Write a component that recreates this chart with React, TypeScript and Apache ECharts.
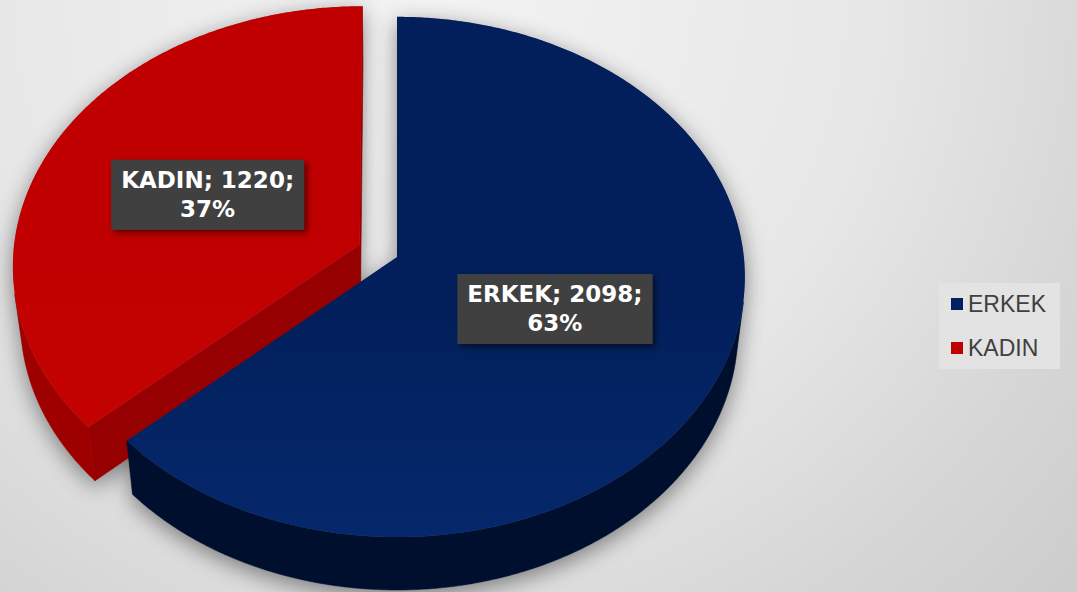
import React, { useEffect, useRef } from "react";
import * as echarts from "echarts";

// ---- data ----
const categories = ["ERKEK", "KADIN"];
const values = [2098, 1220];
const explodeFractions = [0, 0.118];

// ---- styles ----
const topColorsFar = ["#021F5B", "#C00000"];
const topColorsNear = ["#05286C", "#C40202"];
const sideColors = ["#000F2E", "#9E0000"];
const radialColors = ["#000D28", "#960000"];

const total = values.reduce((a, b) => a + b, 0);
const cumBefore = values.map((_, i) => values.slice(0, i).reduce((a, b) => a + b, 0));

// ---- 3D view (perspective) ----
const BASE_W = 1077;
const VIEW = {
  cx: 397,
  cy: 257,
  focal: 3018,
  dist: 8.7,
  tilt: (48.2 * Math.PI) / 180,
  thickness: 0.241,
  labelRadius: 0.49,
};

function makeRenderItem(seriesIdx: number) {
  return (params: any, api: any) => {
    const value = api.value(0) as number;
    const before = api.value(1) as number;
    const k = api.getWidth() / BASE_W;
    const cx = VIEW.cx * k;
    const cy = VIEW.cy * k;
    const F = VIEW.focal * k;
    const D = VIEW.dist;
    const s = Math.sin(VIEW.tilt);
    const c = Math.cos(VIEW.tilt);
    const T = VIEW.thickness;
    const proj = (u: number, v: number, z: number) => {
      const Y = v * s + z * c;
      const Z = D + v * c - z * s;
      return [cx + (F * u) / Z, cy - (F * Y) / Z];
    };
    const th0 = (2 * Math.PI * before) / total;
    const th1 = (2 * Math.PI * (before + value)) / total;
    const mid = (th0 + th1) / 2;
    const e = explodeFractions[seriesIdx];
    const ou = e * Math.sin(mid);
    const ov = e * Math.cos(mid);
    const rim = (th: number, z: number, r = 1) => proj(ou + r * Math.sin(th), ov + r * Math.cos(th), z);
    const center = (z: number) => proj(ou, ov, z);
    const camV = -D * c;

    const zBase = 10 + Math.round((1 - Math.cos(mid)) * 10) * 2;

    const n = Math.max(8, Math.ceil((th1 - th0) / (Math.PI / 360)));
    const ths: number[] = [];
    for (let j = 0; j <= n; j++) ths.push(th0 + ((th1 - th0) * j) / n);

    const faces: { pts: number[][]; color: any; z2: number }[] = [];

    // radial start face
    {
      const nu = -Math.cos(th0), nv = Math.sin(th0);
      if (nu * (0 - ou) + nv * (camV - ov) > 0) {
        faces.push({ pts: [center(0), rim(th0, 0), rim(th0, -T), center(-T)], color: radialColors[seriesIdx], z2: zBase });
      }
    }
    // radial end face
    {
      const nu = Math.cos(th1), nv = -Math.sin(th1);
      if (nu * (0 - ou) + nv * (camV - ov) > 0) {
        faces.push({ pts: [center(0), rim(th1, 0), rim(th1, -T), center(-T)], color: radialColors[seriesIdx], z2: zBase });
      }
    }
    // curved side (visible runs)
    let run: number[] = [];
    const flush = () => {
      if (run.length >= 2) {
        const topPts = run.map((t) => rim(t, 0));
        const botPts = run.slice().reverse().map((t) => rim(t, -T));
        faces.push({ pts: topPts.concat(botPts), color: sideColors[seriesIdx], z2: zBase });
      }
      run = [];
    };
    for (let j = 0; j < n; j++) {
      const tm = (ths[j] + ths[j + 1]) / 2;
      const vis = Math.sin(tm) * (0 - ou - Math.sin(tm)) + Math.cos(tm) * (camV - ov - Math.cos(tm)) > 0;
      if (vis) {
        if (run.length === 0) run.push(ths[j]);
        run.push(ths[j + 1]);
      } else flush();
    }
    flush();

    // top face
    const topPts = [center(0)].concat(ths.map((t) => rim(t, 0)));
    faces.push({
      pts: topPts,
      color: {
        type: "linear",
        x: 0,
        y: 0,
        x2: 0,
        y2: 1,
        colorStops: [
          { offset: 0, color: topColorsFar[seriesIdx] },
          { offset: 0.55, color: topColorsFar[seriesIdx] },
          { offset: 1, color: topColorsNear[seriesIdx] },
        ],
      },
      z2: zBase + 1,
    });

    const children: any[] = [];
    // shadow pass
    faces.forEach((f) => {
      children.push({
        type: "polygon",
        shape: { points: f.pts },
        z2: 1,
        style: {
          fill: "#9a9a9a",
          shadowBlur: 22,
          shadowColor: "rgba(0,0,0,0.45)",
          shadowOffsetX: 0,
          shadowOffsetY: 6,
        },
      });
    });
    // faces
    faces.forEach((f) => {
      children.push({
        type: "polygon",
        shape: { points: f.pts },
        z2: f.z2,
        style: { fill: f.color, stroke: typeof f.color === "string" ? f.color : null, lineWidth: 0.6 },
      });
    });

    // label
    const lp = rim(mid, 0, VIEW.labelRadius);
    const pct = Math.round((value / total) * 100);
    children.push({
      type: "text",
      x: lp[0],
      y: lp[1],
      z2: 100,
      style: {
        text: `${categories[seriesIdx]}; ${value};\n${pct}%`,
        fill: "#FFFFFF",
        fontFamily: "DejaVu Sans",
        fontWeight: "bold",
        fontSize: 23,
        lineHeight: 29,
        align: "center",
        verticalAlign: "middle",
        backgroundColor: "#404040",
        padding: [6, 10, 6, 10],
        shadowBlur: 6,
        shadowColor: "rgba(0,0,0,0.55)",
        shadowOffsetX: 3,
        shadowOffsetY: 3,
      },
    });

    return { type: "group", children };
  };
}

const option: any = {
  animation: false,
  graphic: [
    {
      type: "rect",
      z: -10,
      silent: true,
      shape: { x: 0, y: 0, width: 1077, height: 592 },
      style: {
        fill: {
          type: "radial",
          x: 430,
          y: 0,
          r: 1000,
          global: true,
          colorStops: [
            { offset: 0, color: "#F3F3F3" },
            { offset: 0.45, color: "#E7E7E7" },
            { offset: 0.7, color: "#D6D6D6" },
            { offset: 1, color: "#C6C6C6" },
          ],
        },
      },
    },
  ],
  legend: {
    orient: "vertical",
    left: 939,
    top: 283,
    itemWidth: 12,
    itemHeight: 12,
    itemGap: 20,
    icon: "rect",
    backgroundColor: "#E3E3E3",
    padding: [9, 14, 9, 12],
    selectedMode: false,
    data: categories,
    textStyle: {
      fontFamily: "Liberation Sans",
      fontSize: 23,
      lineHeight: 24,
      color: "#404040",
    },
  },
  series: categories.map((name, i) => ({
    type: "custom",
    name,
    coordinateSystem: "none",
    silent: true,
    z: 2,
    itemStyle: { color: i === 0 ? "#002060" : "#C00000" },
    renderItem: makeRenderItem(i),
    data: [{ name, value: [values[i], cumBefore[i]] }],
  })),
};

export default function App() {
  const ref = useRef<HTMLDivElement>(null);
  useEffect(() => {
    const chart = echarts.init(ref.current!, null, { renderer: "svg" });
    chart.setOption(option);
    return () => chart.dispose();
  }, []);
  return (
    <div
      ref={ref}
      style={{ position: "absolute", left: 0, top: 0, width: 1077, height: 592, overflow: "hidden" }}
    />
  );
}
